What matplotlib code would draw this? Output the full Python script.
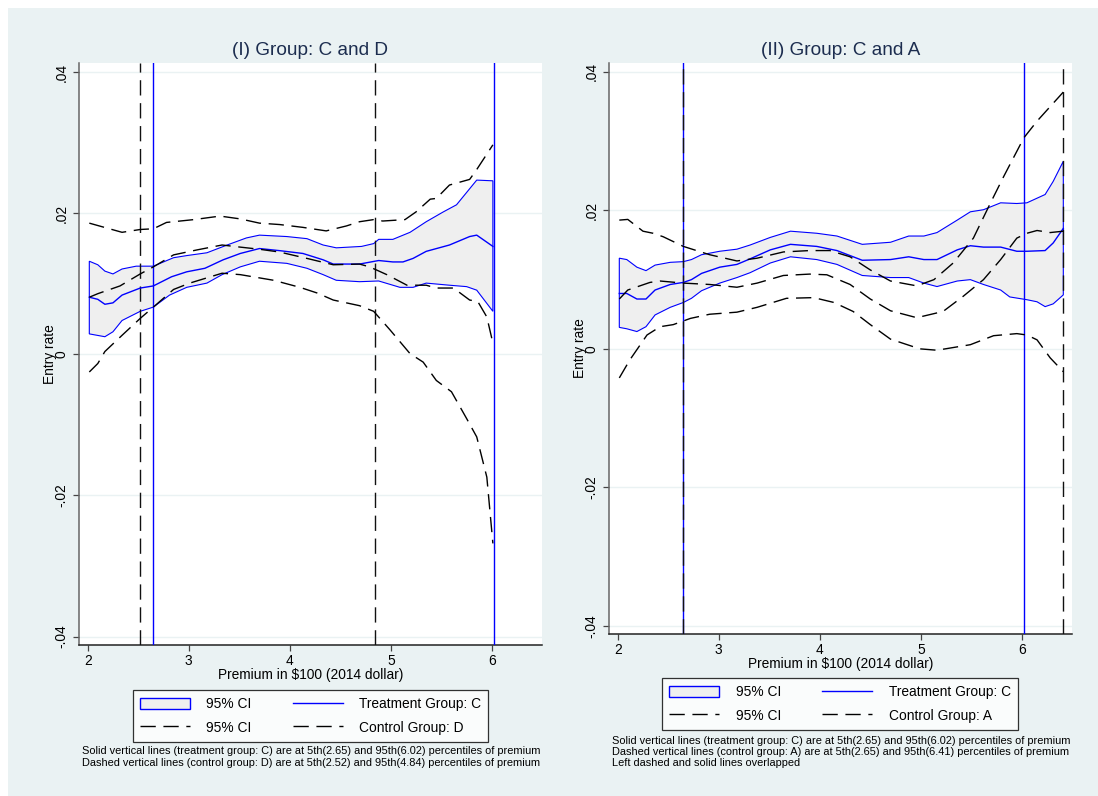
import numpy as np
import matplotlib
matplotlib.use("Agg")
import matplotlib.pyplot as plt
from matplotlib.patches import Rectangle, Patch
from matplotlib.lines import Line2D

plt.rcParams['font.family'] = ['Liberation Sans', 'DejaVu Sans']

# ---------------- data: panel I (C and D) ----------------
L_treat_x = [2.016, 2.10, 2.17, 2.25, 2.34, 2.52, 2.65, 2.83, 2.98, 3.16, 3.34, 3.51, 3.70, 3.90,
             4.13, 4.33, 4.43, 4.69, 4.88, 5.02, 5.12, 5.22, 5.35, 5.58, 5.78, 5.85, 6.01]
L_treat_y = [0.0081, 0.0078, 0.0071, 0.0073, 0.0084, 0.0094, 0.0097, 0.0110, 0.0117, 0.0122, 0.0134,
             0.0143, 0.0150, 0.0147, 0.0143, 0.0134, 0.0128, 0.0128, 0.0133, 0.0131, 0.0131, 0.0136,
             0.0146, 0.0155, 0.0167, 0.0169, 0.0153]
L_treat_hi_x = [2.016, 2.10, 2.17, 2.25, 2.34, 2.48, 2.65, 2.75, 2.85, 2.98, 3.18, 3.38, 3.57, 3.70,
                3.97, 4.17, 4.33, 4.46, 4.71, 4.83, 4.88, 5.02, 5.19, 5.35, 5.52, 5.65, 5.85, 6.01]
L_treat_hi_y = [0.0132, 0.0127, 0.0118, 0.0114, 0.0121, 0.0125, 0.0125, 0.0131, 0.0137, 0.0140, 0.0144,
                0.0155, 0.0165, 0.0169, 0.0167, 0.0164, 0.0155, 0.0151, 0.0153, 0.0157, 0.0163, 0.0163,
                0.0173, 0.0188, 0.0202, 0.0212, 0.0247, 0.0246]
L_treat_lo_x = [2.016, 2.17, 2.25, 2.34, 2.52, 2.65, 2.81, 2.98, 3.18, 3.33, 3.51, 3.70, 3.97, 4.17,
                4.33, 4.46, 4.69, 4.88, 5.09, 5.22, 5.35, 5.58, 5.75, 5.85, 6.01]
L_treat_lo_y = [0.0029, 0.0025, 0.0032, 0.0048, 0.0061, 0.0067, 0.0084, 0.0095, 0.0101, 0.0113, 0.0124,
                0.0132, 0.0129, 0.0122, 0.0113, 0.0105, 0.0103, 0.0104, 0.0095, 0.0095, 0.0101, 0.0098,
                0.0096, 0.0091, 0.0061]

L_ctrl_x = [2.016, 2.10, 2.32, 2.52, 2.65, 2.85, 3.08, 3.33, 3.51, 3.70, 3.90, 4.17, 4.43, 4.69, 4.79,
            4.96, 5.16, 5.35, 5.45, 5.62, 5.78, 5.86, 5.95, 6.01]
L_ctrl_y = [0.0081, 0.0086, 0.0097, 0.0114, 0.0124, 0.0141, 0.0148, 0.0155, 0.0152, 0.0149, 0.0145,
            0.0136, 0.0127, 0.0128, 0.0124, 0.0113, 0.0098, 0.0098, 0.0094, 0.0094, 0.0077, 0.0075,
            0.0053, 0.0016]
L_ctrl_hi_x = [2.016, 2.19, 2.34, 2.52, 2.65, 2.78, 3.05, 3.31, 3.51, 3.70, 3.90, 4.13, 4.36, 4.56,
               4.69, 4.83, 4.92, 5.14, 5.25, 5.39, 5.45, 5.58, 5.78, 5.85, 6.01]
L_ctrl_hi_y = [0.0186, 0.0179, 0.0173, 0.0177, 0.0178, 0.0187, 0.0191, 0.0196, 0.0192, 0.0186, 0.0184,
               0.0180, 0.0175, 0.0182, 0.0188, 0.0191, 0.0189, 0.0191, 0.0202, 0.0220, 0.0221, 0.0240,
               0.0248, 0.0262, 0.0297]
L_ctrl_lo_x = [2.016, 2.10, 2.17, 2.34, 2.52, 2.65, 2.85, 3.01, 3.33, 3.51, 3.84, 4.10, 4.27, 4.43,
               4.69, 4.83, 4.99, 5.19, 5.32, 5.45, 5.60, 5.75, 5.85, 5.95, 6.01]
L_ctrl_lo_y = [-0.0025, -0.0013, 0.0004, 0.0027, 0.0051, 0.0067, 0.0092, 0.0101, 0.0115, 0.0113, 0.0105,
               0.0095, 0.0087, 0.0077, 0.0069, 0.0061, 0.0035, 0.0001, -0.0011, -0.0037, -0.0053,
               -0.0091, -0.0117, -0.0174, -0.0268]

L_treat_vlines = [2.65, 6.02]
L_ctrl_vlines = [2.52, 4.84]

# ---------------- data: panel II (C and A) ----------------
R_treat_x = [2.016, 2.09, 2.19, 2.28, 2.37, 2.52, 2.65, 2.73, 2.83, 3.01, 3.18, 3.31, 3.51, 3.71, 3.97,
             4.17, 4.42, 4.70, 4.88, 5.03, 5.16, 5.36, 5.49, 5.62, 5.79, 5.95, 6.05, 6.23, 6.31, 6.41]
R_treat_y = [0.0080, 0.0080, 0.0072, 0.0072, 0.0085, 0.0093, 0.0096, 0.0100, 0.0109, 0.0118, 0.0122,
             0.0130, 0.0143, 0.0151, 0.0148, 0.0142, 0.0128, 0.0129, 0.0133, 0.0129, 0.0129, 0.0143,
             0.0149, 0.0147, 0.0147, 0.0141, 0.0141, 0.0142, 0.0153, 0.0174]
R_treat_hi_x = R_treat_x
R_treat_hi_y = [0.0131, 0.0129, 0.0118, 0.0113, 0.0121, 0.0125, 0.0126, 0.0129, 0.0136, 0.0141, 0.0144,
                0.0150, 0.0161, 0.0170, 0.0167, 0.0163, 0.0151, 0.0154, 0.0163, 0.0163, 0.0168, 0.0186,
                0.0198, 0.0201, 0.0211, 0.0210, 0.0211, 0.0223, 0.0242, 0.0271]
R_treat_lo_x = [2.016, 2.09, 2.19, 2.28, 2.37, 2.52, 2.65, 2.73, 2.83, 3.01, 3.18, 3.31, 3.51, 3.71,
                3.97, 4.17, 4.42, 4.70, 4.88, 5.03, 5.16, 5.36, 5.49, 5.62, 5.79, 5.88, 6.05, 6.15,
                6.23, 6.31, 6.41]
R_treat_lo_y = [0.0031, 0.0029, 0.0025, 0.0032, 0.0049, 0.0060, 0.0067, 0.0073, 0.0084, 0.0095, 0.0103,
                0.0110, 0.0124, 0.0133, 0.0129, 0.0122, 0.0106, 0.0103, 0.0103, 0.0095, 0.0090, 0.0098,
                0.0100, 0.0093, 0.0085, 0.0075, 0.0071, 0.0068, 0.0061, 0.0065, 0.0078]

R_ctrl_x = [2.016, 2.10, 2.32, 2.42, 2.65, 2.91, 3.18, 3.38, 3.64, 3.90, 4.07, 4.30, 4.50, 4.70, 4.96,
            5.22, 5.42, 5.62, 5.79, 5.95, 6.05, 6.15, 6.28, 6.41]
R_ctrl_y = [0.0072, 0.0085, 0.0096, 0.0098, 0.0095, 0.0093, 0.0089, 0.0095, 0.0106, 0.0108, 0.0107,
            0.0093, 0.0072, 0.0055, 0.0045, 0.0054, 0.0076, 0.0100, 0.0129, 0.0160, 0.0167, 0.0171,
            0.0168, 0.0170]
R_ctrl_hi_x = [2.016, 2.10, 2.25, 2.35, 2.45, 2.65, 2.91, 3.18, 3.38, 3.64, 3.90, 4.10, 4.30, 4.50,
               4.70, 4.96, 5.13, 5.32, 5.52, 5.69, 5.82, 6.02, 6.15, 6.41]
R_ctrl_hi_y = [0.0186, 0.0187, 0.0170, 0.0167, 0.0162, 0.0148, 0.0136, 0.0127, 0.0131, 0.0140, 0.0142,
               0.0142, 0.0133, 0.0114, 0.0098, 0.0091, 0.0100, 0.0124, 0.0160, 0.0211, 0.0249, 0.0305,
               0.0329, 0.0371]
R_ctrl_lo_x = [2.016, 2.12, 2.29, 2.42, 2.55, 2.72, 2.91, 3.18, 3.38, 3.67, 3.94, 4.14, 4.33, 4.50,
               4.70, 4.99, 5.16, 5.49, 5.72, 5.95, 6.05, 6.15, 6.28, 6.41]
R_ctrl_lo_y = [-0.0042, -0.0016, 0.0020, 0.0032, 0.0035, 0.0044, 0.0050, 0.0053, 0.0060, 0.0073, 0.0074,
               0.0067, 0.0054, 0.0035, 0.0014, 0.0000, -0.0002, 0.0006, 0.0019, 0.0022, 0.0020, 0.0013,
               -0.0013, -0.0033]

R_treat_vlines = [2.65, 6.02]
R_ctrl_vlines = [2.65, 6.41]

x_ticks = [2, 3, 4, 5, 6]
y_ticks = [-0.04, -0.02, 0, 0.02, 0.04]
y_ticklabels = ['-.04', '-.02', '0', '.02', '.04']

titles = ['(I) Group: C and D', '(II) Group: C and A']
ctrl_names = ['Control Group: D', 'Control Group: A']
notes = [
    "Solid vertical lines (treatment group: C) are at 5th(2.65) and 95th(6.02) percentiles of premium\n"
    "Dashed vertical lines (control group: D) are at 5th(2.52) and 95th(4.84) percentiles of premium",
    "Solid vertical lines (treatment group: C) are at 5th(2.65) and 95th(6.02) percentiles of premium\n"
    "Dashed vertical lines (control group: A) are at 5th(2.65) and 95th(6.41) percentiles of premium\n"
    "Left dashed and solid lines overlapped",
]

# ---------------- styles ----------------
W, H = 1098, 796
BG = '#eaf2f3'
BLUE = '#0000ff'
BAND = '#efefef'
TITLE_C = '#1c2d4f'
DASH = (11.0, 5.5)
FS = 9.9

fig = plt.figure(figsize=(W / 100, H / 100), dpi=100, facecolor='white')
fig.patches.append(Rectangle((8 / W, 0), 1 - 8 / W, 1 - 8 / H, transform=fig.transFigure,
                             facecolor=BG, edgecolor='none', zorder=-10))

def px_axes(x0, y0, x1, y1):
    return fig.add_axes([x0 / W, 1 - y1 / H, (x1 - x0) / W, (y1 - y0) / H])

axL = px_axes(79, 63, 542, 645)
axR = px_axes(609, 63, 1072, 634)

panels = [
    (axL, L_treat_x, L_treat_y, L_treat_hi_x, L_treat_hi_y, L_treat_lo_x, L_treat_lo_y,
     L_ctrl_x, L_ctrl_y, L_ctrl_hi_x, L_ctrl_hi_y, L_ctrl_lo_x, L_ctrl_lo_y,
     L_treat_vlines, L_ctrl_vlines),
    (axR, R_treat_x, R_treat_y, R_treat_hi_x, R_treat_hi_y, R_treat_lo_x, R_treat_lo_y,
     R_ctrl_x, R_ctrl_y, R_ctrl_hi_x, R_ctrl_hi_y, R_ctrl_lo_x, R_ctrl_lo_y,
     R_treat_vlines, R_ctrl_vlines),
]

for i, (ax, tx, ty, thx, thy, tlx, tly, cx, cy, chx, chy, clx, cly, tv, cv) in enumerate(panels):
    ax.set_facecolor('white')
    # band
    bx = np.r_[thx, tlx[::-1]]
    by = np.r_[thy, tly[::-1]]
    ax.fill(bx, by, facecolor=BAND, edgecolor=BLUE, lw=0.8, zorder=2)
    # vertical lines
    for v in tv:
        ax.axvline(v, color=BLUE, lw=1.0, zorder=3)
    for v in cv:
        ax.axvline(v, color='#111111', lw=1.0, dashes=DASH, zorder=4)
    # lines
    ax.plot(tx, ty, color=BLUE, lw=1.0, zorder=5)
    ax.plot(cx, cy, color='black', lw=1.0, dashes=DASH, zorder=5)
    ax.plot(chx, chy, color='black', lw=1.0, dashes=DASH, zorder=5)
    ax.plot(clx, cly, color='black', lw=1.0, dashes=DASH, zorder=5)

    ax.set_xlim(1.914, 6.496)
    ax.set_ylim(-0.0412, 0.0413)
    ax.set_xticks(x_ticks)
    ax.set_xticklabels([str(t) for t in x_ticks], fontsize=FS)
    ax.set_yticks(y_ticks)
    ax.set_yticklabels(y_ticklabels, fontsize=FS, rotation=90, va='center')
    ax.grid(axis='y', color=BG, lw=1.0, zorder=0)
    ax.set_axisbelow(True)
    for s in ['top', 'right']:
        ax.spines[s].set_visible(False)
    ax.spines['left'].set_color('#666666')
    ax.spines['bottom'].set_color('#222222')
    ax.spines['left'].set_linewidth(1.1)
    ax.spines['bottom'].set_linewidth(1.1)
    ax.tick_params(axis='both', length=4.3, width=0.9, color='#444444', pad=2.5)
    ax.tick_params(axis='y', pad=3)
    ax.set_xlabel('Premium in $100 (2014 dollar)', fontsize=FS, labelpad=0)
    ax.set_ylabel('Entry rate', fontsize=FS, labelpad=-1.5)
    ax.set_title(titles[i], fontsize=13.7, color=TITLE_C, pad=6)

    handles = [
        Patch(facecolor=BAND, edgecolor=BLUE, lw=1.0),
        Line2D([], [], color='black', lw=1.0, dashes=DASH),
        Line2D([], [], color=BLUE, lw=1.0),
        Line2D([], [], color='black', lw=1.0, dashes=DASH),
    ]
    labels = ['95% CI', '95% CI', 'Treatment Group: C', ctrl_names[i]]
    if i == 0:
        cxp, cyp = 310.5, 716
    else:
        cxp, cyp = 840, 704
    leg = fig.legend(handles, labels, ncol=2, loc='center', bbox_to_anchor=(cxp / W, 1 - cyp / H),
                     fontsize=FS, frameon=True, fancybox=False, edgecolor='black',
                     handlelength=3.65, handleheight=0.95, handletextpad=1.2, columnspacing=3.0,
                     labelspacing=0.7, borderpad=0.5, borderaxespad=0)
    leg.get_frame().set_linewidth(0.9)
    leg.get_frame().set_facecolor('white')

fig.text(81.7 / W, 1 - 746.5 / H, notes[0], fontsize=7.9, va='top', ha='left', linespacing=1.13)
fig.text(611.7 / W, 1 - 735.5 / H, notes[1], fontsize=7.9, va='top', ha='left', linespacing=1.13)

fig.savefig('out.png', dpi=100, facecolor=fig.get_facecolor())
